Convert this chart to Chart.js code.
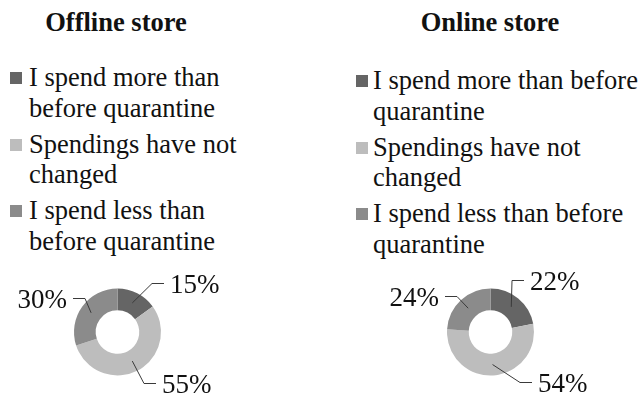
<!DOCTYPE html>
<html>
<head>
<meta charset="utf-8">
<script src="https://cdn.jsdelivr.net/npm/chart.js@4/dist/chart.umd.min.js"></script>
<style>
body { margin: 0; background: #fff; font-family: "Liberation Serif", "Times New Roman", serif; color: #111; }
.panel { position: absolute; top: 0; width: 320px; height: 393px; }
.title { position: absolute; top: 7px; left: 0; font-weight: bold; font-size: 26.5px; line-height: 30px; text-align: center; }
.legend { position: absolute; font-size: 26.5px; line-height: 30.5px; }
.legend .item { position: relative; margin-bottom: 5.5px; }
.legend .box { position: absolute; left: 0; top: 10px; width: 12px; height: 12px; }
canvas { position: absolute; top: 264px; }
</style>
</head>
<body>
<div class="panel" id="offline" style="left:0">
  <div class="title" style="width:232px"></div>
  <div class="legend" style="left:10px; top:62px; width:245px"></div>
  <canvas id="offlineChart" width="235" height="136" style="left:0"></canvas>
</div>
<div class="panel" id="online" style="left:320px">
  <div class="title" style="width:340px"></div>
  <div class="legend" style="left:36px; top:65px; width:300px"></div>
  <canvas id="onlineChart" width="235" height="136" style="left:53px"></canvas>
</div>
<script>
var answers = ['I spend more than before quarantine', 'Spendings have not changed', 'I spend less than before quarantine'];
var offlineShares = [15, 55, 30];
var onlineShares = [22, 54, 24];
var shades = ['#656565', '#bdbdbd', '#8b8b8b'];

// leader lines from the middle of each ring slice to its percentage label
var leaderPlugin = {
  id: 'leaders',
  afterDatasetsDraw: function(chart, args, opts) {
    var c = chart.ctx;
    var meta = chart.getDatasetMeta(0);
    var values = chart.data.datasets[0].data;
    c.save();
    c.strokeStyle = '#3a3a3a';
    c.lineWidth = 1;
    c.fillStyle = '#111';
    c.font = '27px "Liberation Serif", "Times New Roman", serif';
    meta.data.forEach(function(arc, i) {
      var p = arc.getProps(['x', 'y', 'startAngle', 'endAngle', 'innerRadius', 'outerRadius'], true);
      var mid = (p.startAngle + p.endAngle) / 2;
      var r = (p.innerRadius + p.outerRadius) / 2;
      var sx = p.x + Math.cos(mid) * r;
      var sy = p.y + Math.sin(mid) * r;
      var ex = p.x + opts.elbows[i][0];
      var ey = p.y + opts.elbows[i][1];
      var dir = opts.elbows[i][0] >= 0 ? 1 : -1;
      var tx = ex + dir * opts.run;
      c.beginPath();
      c.moveTo(sx, sy);
      c.lineTo(ex, ey);
      c.lineTo(tx, ey);
      c.stroke();
      c.textAlign = dir > 0 ? 'left' : 'right';
      c.textBaseline = 'alphabetic';
      c.fillText(values[i] + '%', tx + dir * 6, ey + 9);
    });
    c.restore();
  }
};

function buildPanel(id, name, shares, elbows) {
  var panel = document.getElementById(id);
  panel.querySelector('.title').textContent = name;
  var legend = panel.querySelector('.legend');
  answers.forEach(function(a, i) {
    var item = document.createElement('div');
    item.className = 'item';
    item.style.paddingLeft = (id === 'online' ? 17 : 19) + 'px';
    var box = document.createElement('span');
    box.className = 'box';
    box.style.background = shades[i];
    item.appendChild(box);
    item.appendChild(document.createTextNode(a));
    legend.appendChild(item);
  });

  new Chart(document.getElementById(id + 'Chart'), {
    type: 'doughnut',
    data: {
      labels: answers,
      datasets: [{
        data: shares,
        backgroundColor: shades,
        borderWidth: 0
      }]
    },
    options: {
      responsive: false,
      animation: false,
      radius: 43.5,
      cutout: '50%',
      layout: { padding: 0 },
      plugins: {
        legend: { display: false },
        tooltip: { enabled: false },
        leaders: { elbows: elbows, run: 12 }
      }
    },
    plugins: [leaderPlugin]
  });
}

buildPanel('offline', 'Offline store', offlineShares, [[34.5, -48.5], [26.5, 51.5], [-32.5, -33.5]]);
buildPanel('online', 'Online store', onlineShares, [[21.5, -51.5], [29.5, 50.5], [-33.5, -35.5]]);
</script>
</body>
</html>
